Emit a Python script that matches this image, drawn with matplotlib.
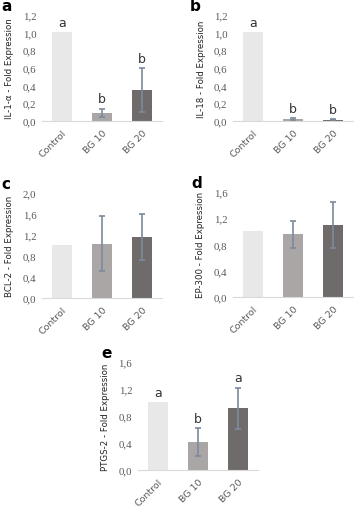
import numpy as np
import matplotlib.pyplot as plt

groups = ["Control", "BG 10", "BG 20"]

il1_mean = [1.0, 0.09, 0.35]
il1_err = [0.0, 0.05, 0.25]
il1_letters = ["a", "b", "b"]

il18_mean = [1.0, 0.02, 0.015]
il18_err = [0.0, 0.01, 0.006]
il18_letters = ["a", "b", "b"]

bcl2_mean = [1.0, 1.03, 1.16]
bcl2_err = [0.0, 0.52, 0.43]

ep300_mean = [1.0, 0.95, 1.09]
ep300_err = [0.0, 0.21, 0.35]

ptgs2_mean = [1.0, 0.41, 0.91]
ptgs2_err = [0.0, 0.21, 0.31]
ptgs2_letters = ["a", "b", "a"]

bar_colors = ["#e8e8e8", "#aaa6a6", "#6f6b6b"]
err_color = "#7d8a9c"
text_color = "#595959"


def panel(rect, means, errs, ylabel, ymax, step, tag, tag_x, letters=None):
    ax = fig.add_axes(rect)
    x = np.arange(len(groups))
    ax.bar(x, means, width=0.5, color=bar_colors, zorder=2)
    for i in range(1, len(groups)):
        ax.errorbar(x[i], means[i], yerr=errs[i], color=err_color,
                    capsize=2.5, elinewidth=1.2, capthick=1.2, zorder=3)
    if letters:
        for i, lt in enumerate(letters):
            top = means[i] + errs[i]
            ax.text(x[i], top + ymax * 0.03, lt, ha="center", va="bottom",
                    fontsize=9, color="#333333")
    ax.set_xlim(-0.5, 2.5)
    ax.set_ylim(0, ymax)
    ticks = np.arange(0, ymax + 1e-9, step)
    ax.set_yticks(ticks)
    ax.set_yticklabels([f"{t:.1f}".replace(".", ",") for t in ticks],
                       fontfamily="Liberation Serif", fontsize=7.8, color=text_color)
    ax.set_xticks(x)
    ax.set_xticklabels(groups, rotation=45, ha="right", rotation_mode="anchor",
                       fontsize=6.8, color=text_color)
    ax.tick_params(length=0, pad=4)
    ax.tick_params(axis="x", pad=5)
    for s in ["top", "right", "left"]:
        ax.spines[s].set_visible(False)
    ax.spines["bottom"].set_color("#d9d9d9")
    ax.set_ylabel(ylabel, fontsize=6.2, color="#222222", labelpad=6)
    fig.text(tag_x, rect[1] + rect[3] + 0.018, tag, fontsize=11,
             fontweight="bold", ha="left", va="center")
    return ax


fig = plt.figure(figsize=(3.58, 5.10), dpi=100)

panel([0.117, 0.761, 0.335, 0.208], il1_mean, il1_err,
      "IL-1-\u03b1 - Fold Expression", 1.2, 0.2, "a", 0.005, il1_letters)
panel([0.651, 0.761, 0.335, 0.208], il18_mean, il18_err,
      "IL-18 - Fold Expression", 1.2, 0.2, "b", 0.53, il18_letters)
panel([0.117, 0.414, 0.335, 0.206], bcl2_mean, bcl2_err,
      "BCL-2 - Fold Expression", 2.0, 0.4, "c", 0.005)
panel([0.651, 0.416, 0.335, 0.206], ep300_mean, ep300_err,
      "EP-300 - Fold Expression", 1.6, 0.4, "d", 0.535)
panel([0.385, 0.0765, 0.335, 0.212], ptgs2_mean, ptgs2_err,
      "PTGS-2 - Fold Expression", 1.6, 0.4, "e", 0.283, ptgs2_letters)

fig.savefig("out.png", dpi=100)
